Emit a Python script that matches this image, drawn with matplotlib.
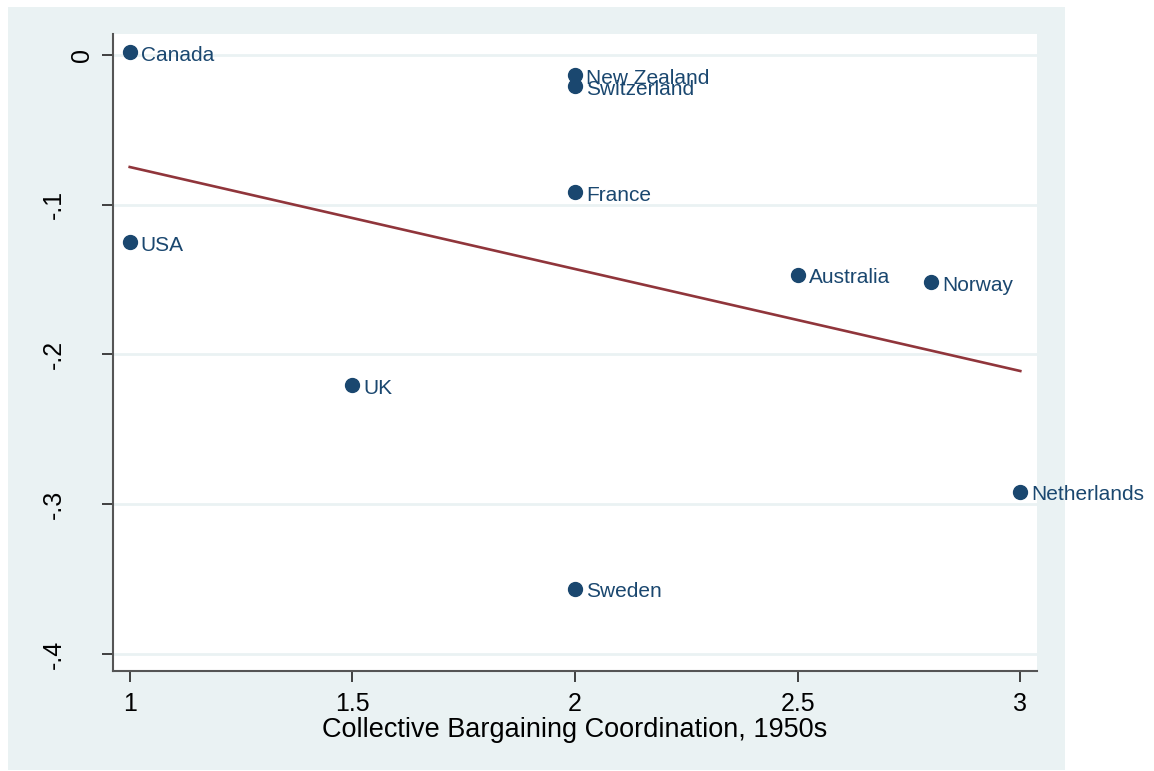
import numpy as np
import matplotlib
matplotlib.use("Agg")
import matplotlib.pyplot as plt
from matplotlib.patches import Rectangle

countries = ["Canada", "New Zealand", "Switzerland", "France", "USA",
             "Australia", "Norway", "UK", "Netherlands", "Sweden"]
coordination = [1.0, 2.0, 2.0, 2.0, 1.0, 2.5, 2.8, 1.5, 3.0, 2.0]
outcome = [0.002, -0.0134, -0.0207, -0.0915, -0.1249,
           -0.1469, -0.1516, -0.2204, -0.2918, -0.3566]

x_ticks = [1, 1.5, 2, 2.5, 3]
x_tick_labels = ["1", "1.5", "2", "2.5", "3"]
y_ticks = [0, -0.1, -0.2, -0.3, -0.4]
y_tick_labels = ["0", "-.1", "-.2", "-.3", "-.4"]
x_title = "Collective Bargaining Coordination, 1950s"

navy = "#1A476F"
maroon = "#90353B"
bg = "#EAF2F3"

plt.rcParams["font.family"] = ["Liberation Sans", "DejaVu Sans"]

W, H = 1154, 771
fig = plt.figure(figsize=(W / 100, H / 100), dpi=100)
fig.patch.set_facecolor("white")
fig.patches.append(Rectangle((8 / W, 1 - 770 / H), (1065 - 8) / W, (770 - 7) / H,
                             transform=fig.transFigure, facecolor=bg,
                             edgecolor="none", zorder=-10))

ax = fig.add_axes([113 / W, 1 - 671 / H, (1037 - 113) / W, (671 - 34) / H])
ax.set_facecolor("white")

x = np.array(coordination)
y = np.array(outcome)
ax.set_xlim(0.9625, 3.0375)
ax.set_ylim(-0.4114, 0.014)

for yt in y_ticks:
    ax.axhline(yt, color=bg, lw=2.0, zorder=1)

slope, intercept = np.polyfit(x, y, 1)
xl = np.array([x.min(), x.max()])
ax.plot(xl, intercept + slope * xl, color=maroon, lw=1.9, zorder=2)

ax.plot(x, y, "o", color=navy, ms=10, mec=navy, zorder=3, clip_on=False)
for c, xi, yi in zip(countries, x, y):
    ax.annotate(c, (xi, yi), xytext=(8, -2.2), textcoords="offset points",
                va="center", ha="left", color=navy, fontsize=15,
                annotation_clip=False, zorder=4)

for s in ["top", "right"]:
    ax.spines[s].set_visible(False)
for s in ["left", "bottom"]:
    ax.spines[s].set_color("#555555")
    ax.spines[s].set_linewidth(1.5)

ax.set_xticks(x_ticks)
ax.set_xticklabels(x_tick_labels, fontsize=18)
ax.set_yticks(y_ticks)
ax.set_yticklabels([""] * len(y_ticks))
ax.tick_params(axis="both", length=8, width=1.2, color="#222222")
ax.tick_params(axis="x", pad=7)

# Stata-style rotated y labels: short label sits closer to the axis
for yt, lab in zip(y_ticks, y_tick_labels):
    off = -22.5 if len(lab) == 1 else -42.5
    ax.annotate(lab, (0, yt), xycoords=("axes fraction", "data"),
                xytext=(off, 0), textcoords="offset points",
                rotation=90, ha="center", va="center", fontsize=18,
                annotation_clip=False)

ax.set_xlabel(x_title, fontsize=19.5, labelpad=1)

fig.savefig("out.png", dpi=100, facecolor="white")
